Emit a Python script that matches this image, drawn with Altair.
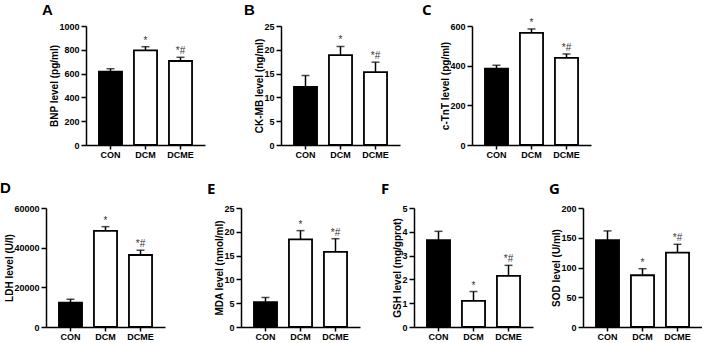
import altair as alt
import pandas as pd

# Groups and significance marks (vs CON: *, vs DCM: #)
groups = ["CON", "DCM", "DCME"]
sig_marks = ["", "*", "*#"]

# Means and upper error (SD) per biomarker
bnp_mean = [616, 795, 706]
bnp_sd = [25, 31, 31]
ck_mean = [12.2, 18.9, 15.3]
ck_sd = [2.4, 1.8, 2.1]
tnt_mean = [385, 565, 439]
tnt_sd = [17, 20, 20]
ldh_mean = [12300, 48500, 36300]
ldh_sd = [1700, 2100, 2400]
mda_mean = [5.2, 18.4, 15.8]
mda_sd = [1.0, 1.85, 2.75]
gsh_mean = [3.65, 1.10, 2.15]
gsh_sd = [0.37, 0.39, 0.44]
sod_mean = [146, 87, 125]
sod_sd = [15.5, 11, 14]

# Axis ticks
bnp_ticks = [0, 200, 400, 600, 800, 1000]
ck_ticks = [0, 5, 10, 15, 20, 25]
tnt_ticks = [0, 200, 400, 600]
ldh_ticks = [0, 20000, 40000, 60000]
mda_ticks = [0, 5, 10, 15, 20, 25]
gsh_ticks = [0, 1, 2, 3, 4, 5]
sod_ticks = [0, 50, 100, 150, 200]

W, H = 119, 119


def panel(letter, ytitle, mean, sd, ticks, dx, lift, letter_font):
    df = pd.DataFrame({
        "group": groups,
        "mean": mean,
        "upper": [m + s for m, s in zip(mean, sd)],
        "sig": sig_marks,
    })
    base = alt.Chart(df)
    x = alt.X("group:N", sort=groups,
              scale=alt.Scale(paddingInner=0.34, paddingOuter=0.37),
              axis=alt.Axis(title=None, labelAngle=0, labelPadding=1, tickSize=4))
    yscale = alt.Scale(domain=[0, ticks[-1]], nice=False)
    yaxis = alt.Axis(title=ytitle, values=ticks, format="d", labelOverlap=False)
    bars = base.mark_bar(stroke="black", strokeWidth=1.8).encode(
        x=x, y=alt.Y("mean:Q", scale=yscale, axis=yaxis),
        fill=alt.Fill("group:N", scale=alt.Scale(domain=groups, range=["black", "white", "white"]),
                      legend=None),
    )
    err = base.mark_rule(color="black", strokeWidth=1.5).encode(
        x=x, y=alt.Y("mean:Q", scale=yscale, axis=yaxis), y2="upper:Q")
    cap = base.mark_tick(color="black", size=8, thickness=1.5, orient="horizontal").encode(
        x=x, y=alt.Y("upper:Q", scale=yscale, axis=yaxis))
    txt = base.mark_text(baseline="bottom", dy=-1, fontSize=10, color="#333333",
                         font="Liberation Sans").encode(
        x=x, y=alt.Y("upper:Q", scale=yscale, axis=yaxis), text="sig:N")
    # panel letter, placed relative to the plot's top-left corner
    tag = alt.Chart(pd.DataFrame({"letter": [letter]})).mark_text(
        align="left", baseline="alphabetic", fontSize=15, fontWeight="bold",
        font=letter_font, color="black",
    ).encode(x=alt.value(dx), y=alt.value(-lift), text="letter:N")
    return alt.layer(bars, err, cap, txt, tag).properties(width=W, height=H)


def hc(*charts, spacing):
    return alt.HConcatChart(hconcat=list(charts), spacing=spacing, bounds="flush")


spacer = alt.Chart(pd.DataFrame({"v": [0]})).mark_point(opacity=0).encode(
    x=alt.X("v:Q", axis=None), y=alt.Y("v:Q", axis=None)
).properties(width=1, height=H)

A = panel("A", "BNP level (pg/ml)", bnp_mean, bnp_sd, bnp_ticks, -44, 11, "Liberation Sans")
B = panel("B", "CK-MB level (ng/ml)", ck_mean, ck_sd, ck_ticks, -37, 11, "Liberation Sans")
C = panel("C", "c-TnT level (pg/ml)", tnt_mean, tnt_sd, tnt_ticks, -50, 11, "Open Sans")
D = panel("D", "LDH level (U/l)", ldh_mean, ldh_sd, ldh_ticks, -46, 15, "Liberation Sans")
E = panel("E", "MDA level (nmol/ml)", mda_mean, mda_sd, mda_ticks, -34, 14, "Open Sans")
F = panel("F", "GSH level (mg/gprot)", gsh_mean, gsh_sd, gsh_ticks, -33, 14, "Open Sans")
G = panel("G", "SOD level (U/ml)", sod_mean, sod_sd, sod_ticks, -34, 14, "Open Sans")

row1 = hc(spacer, hc(A, hc(B, C, spacing=72), spacing=76), spacing=39)
row2 = hc(D, hc(E, hc(F, G, spacing=50), spacing=54), spacing=76)

chart = alt.VConcatChart(
    vconcat=[row1, row2], spacing=22,
    padding={"left": 0, "top": 3, "right": 0, "bottom": 0},
).configure_view(stroke=None).configure_axis(
    domainColor="black", domainWidth=1.5, tickColor="black", tickWidth=1.5,
    tickSize=5, labelPadding=2, grid=False, titlePadding=-1,
    labelFont="Liberation Sans", labelFontWeight="bold", labelFontSize=9, labelColor="black",
    titleFont="Liberation Sans", titleFontWeight="bold", titleFontSize=10, titleColor="black",
)

chart.save("out.html", embed_options={"renderer": "svg", "actions": False})
